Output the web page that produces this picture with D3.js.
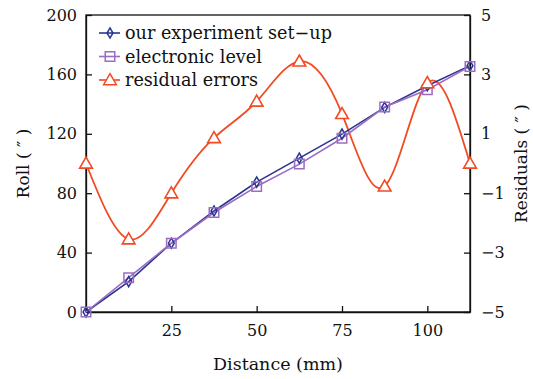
<!DOCTYPE html>
<html><head><meta charset="utf-8">
<script src="https://cdn.jsdelivr.net/npm/d3@7"></script>
<style>
html,body{margin:0;padding:0;background:#fff;}
svg text{font-family:"DejaVu Serif",serif;fill:#111;}
</style></head>
<body>
<svg id="c" width="533" height="379"></svg>
<script>
const distance = [0, 12.5, 25, 37.5, 50, 62.5, 75, 87.5, 100, 112.5];
const experiment = [0, 20.5, 46.3, 68, 87.5, 103.6, 119.8, 137.8, 152.4, 165.9];
const electronicLevel = [0, 23.1, 46.3, 67, 84.5, 99.6, 117, 138, 149.7, 165.4];
const residualErrors = [0, -2.55, -1.0, 0.86, 2.09, 3.44, 1.67, -0.77, 2.71, 0];
const xTicks = [25, 50, 75, 100];
const yLeftTicks = [0, 40, 80, 120, 160, 200];
const yRightTicks = [-5, -3, -1, 1, 3, 5];
const seriesNames = ["our experiment set\u2212up", "electronic level", "residual errors"];

const colExp = "#2a3590", colLev = "#9a6cc2", colRes = "#f24a22";
const svg = d3.select("#c");
const L = 86, R = 470, T = 15, B = 312;
const x = d3.scaleLinear().domain([0, 112.5]).range([L, R]);
const yL = d3.scaleLinear().domain([0, 200]).range([B, T]);
const yR = d3.scaleLinear().domain([-5, 5]).range([B, T]);

// frame
svg.append("rect").attr("x", L).attr("y", T).attr("width", R - L).attr("height", B - T)
  .attr("fill", "none").attr("stroke", "#111").attr("stroke-width", 1.3);

const fmt = d => d < 0 ? "\u2212" + Math.abs(d) : String(d);
const gx = svg.append("g").attr("transform", `translate(0,${B})`)
  .call(d3.axisBottom(x).tickValues(xTicks).tickSizeInner(-6).tickSizeOuter(0).tickPadding(13));
const gl = svg.append("g").attr("transform", `translate(${L},0)`)
  .call(d3.axisLeft(yL).tickValues(yLeftTicks).tickSizeInner(-6).tickSizeOuter(0).tickPadding(9));
const gr = svg.append("g").attr("transform", `translate(${R},0)`)
  .call(d3.axisRight(yR).tickValues(yRightTicks).tickFormat(fmt).tickSizeInner(-6).tickSizeOuter(0).tickPadding(11));
[gx, gl, gr].forEach(g => {
  g.select(".domain").attr("stroke", "#111").attr("stroke-width", 1.3);
  g.selectAll(".tick line").attr("stroke", "#111").attr("stroke-width", 1.3);
  g.selectAll(".tick text").attr("font-family", "DejaVu Serif").attr("font-size", 16).attr("fill", "#111");
});
gl.selectAll(".tick").filter(d => d === 0).select("line").remove();
gx.selectAll(".tick text").attr("dy", "0.71em");

// axis titles
svg.append("text").attr("x", (L + R) / 2).attr("y", 370).attr("text-anchor", "middle")
  .attr("font-size", 17.5).text("Distance (mm)");
svg.append("text").attr("transform", `translate(29,${(T + B) / 2}) rotate(-90)`).attr("text-anchor", "middle")
  .attr("font-size", 17).text("Roll ( \u2033 )");
svg.append("text").attr("transform", `translate(527,${(T + B) / 2}) rotate(-90)`).attr("text-anchor", "middle")
  .attr("font-size", 17).text("Residuals ( \u2033 )");

// residual curve
const resData = distance.map((d, i) => [d, residualErrors[i]]);
svg.append("path").datum(resData)
  .attr("d", d3.line().x(d => x(d[0])).y(d => yR(d[1])).curve(d3.curveNatural))
  .attr("fill", "none").attr("stroke", colRes).attr("stroke-width", 1.8);

const expData = distance.map((d, i) => [d, experiment[i]]);
const levData = distance.map((d, i) => [d, electronicLevel[i]]);
svg.append("path").datum(expData)
  .attr("d", d3.line().x(d => x(d[0])).y(d => yL(d[1])))
  .attr("fill", "none").attr("stroke", colExp).attr("stroke-width", 1.6);
svg.append("path").datum(levData)
  .attr("d", d3.line().x(d => x(d[0])).y(d => yL(d[1])))
  .attr("fill", "none").attr("stroke", colLev).attr("stroke-width", 1.6);

const diamond = d3.symbol().type(d3.symbolDiamond).size(30)();
const square = d3.symbol().type(d3.symbolSquare).size(90)();
const tri = d3.symbol().type(d3.symbolTriangle).size(70)();

svg.selectAll(".mexp").data(expData).join("path").attr("d", diamond)
  .attr("transform", d => `translate(${x(d[0])},${yL(d[1])})`)
  .attr("fill", "none").attr("stroke", colExp).attr("stroke-width", 1.5);
svg.selectAll(".mlev").data(levData).join("path").attr("d", square)
  .attr("transform", d => `translate(${x(d[0])},${yL(d[1])})`)
  .attr("fill", "none").attr("stroke", colLev).attr("stroke-width", 1.5);
svg.selectAll(".mres").data(resData).join("path").attr("d", tri)
  .attr("transform", d => `translate(${x(d[0])},${yR(d[1]) + 1})`)
  .attr("fill", "#fff").attr("stroke", colRes).attr("stroke-width", 1.6);

// legend
const leg = [
  {name: seriesNames[0], c: colExp, m: diamond},
  {name: seriesNames[1], c: colLev, m: square},
  {name: seriesNames[2], c: colRes, m: tri}
];
const lg = svg.append("g");
leg.forEach((d, i) => {
  const yy = 33 + i * 23.5;
  lg.append("line").attr("x1", 99).attr("x2", 120).attr("y1", yy).attr("y2", yy)
    .attr("stroke", d.c).attr("stroke-width", 1.6);
  lg.append("path").attr("d", d.m).attr("transform", `translate(110,${yy + (i === 2 ? 1 : 0)})`)
    .attr("fill", i === 2 ? "#fff" : "none").attr("stroke", d.c).attr("stroke-width", 1.5);
  lg.append("text").attr("x", 125).attr("y", yy).attr("dy", "0.35em")
    .attr("font-size", 17.6).text(d.name);
});
</script>
</body></html>
